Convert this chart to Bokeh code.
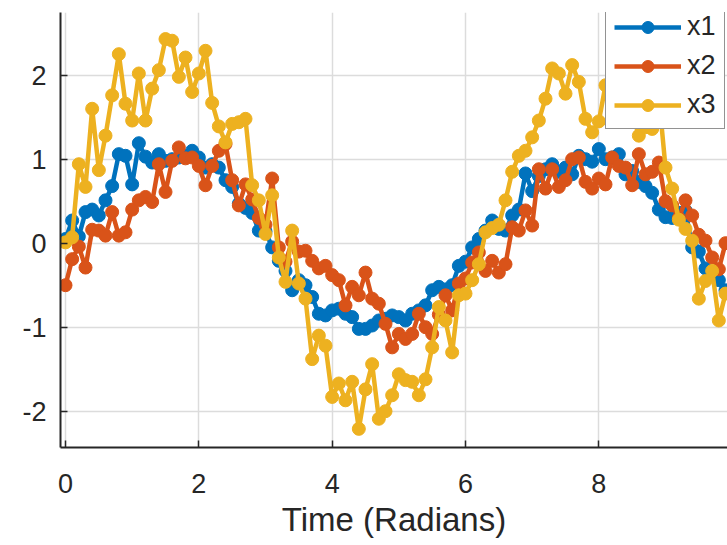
from bokeh.plotting import figure
from bokeh.models import FixedTicker, Range1d, Legend, LegendItem
from bokeh.embed import file_html
from bokeh.resources import INLINE

# Time (radians)
t = [round(0.1 * i, 1) for i in range(100)]

x1 = [0.05, 0.27, 0.08, 0.37, 0.40, 0.33, 0.51, 0.68, 1.06, 1.04,
      0.70, 1.19, 1.03, 0.96, 1.06, 0.98, 1.00, 1.02, 1.04, 1.10,
      1.02, 0.90, 0.94, 0.90, 0.75, 0.67, 0.47, 0.42, 0.36, 0.15,
      0.14, -0.05, -0.21, -0.33, -0.56, -0.44, -0.50, -0.64, -0.84, -0.86,
      -0.80, -0.78, -0.84, -0.88, -1.02, -1.02, -0.98, -0.92, -0.90, -0.86,
      -0.88, -0.92, -0.84, -0.80, -0.74, -0.56, -0.52, -0.55, -0.50, -0.27,
      -0.22, -0.05, 0.05, 0.15, 0.27, 0.17, 0.15, 0.33, 0.40, 0.83,
      0.62, 0.80, 0.88, 0.94, 0.85, 0.90, 0.82, 1.04, 1.00, 0.97,
      1.12, 1.00, 1.02, 1.06, 0.82, 0.86, 0.73, 0.68, 0.60, 0.40,
      0.31, 0.30, 0.36, 0.39, -0.05, -0.10, -0.30, -0.38, -0.44, -0.56]

x2 = [-0.50, -0.19, -0.04, -0.29, 0.16, 0.15, 0.09, 0.37, 0.09, 0.13,
      0.40, 0.51, 0.55, 0.49, 0.94, 0.61, 0.98, 1.14, 1.01, 1.02,
      0.92, 0.69, 0.92, 1.10, 1.18, 0.75, 0.45, 0.70, 0.52, 0.30,
      0.22, 0.77, -0.05, -0.22, 0.02, -0.10, -0.09, -0.21, -0.30, -0.27,
      -0.38, -0.44, -0.74, -0.52, -0.62, -0.35, -0.66, -0.72, -0.96, -1.24,
      -1.08, -1.14, -1.08, -0.84, -1.00, -1.08, -0.85, -0.62, -0.80, -0.48,
      -0.42, -0.23, -0.11, -0.33, -0.21, -0.35, -0.25, 0.19, 0.15, 0.39,
      0.21, 0.88, 0.65, 0.88, 0.67, 0.75, 1.00, 1.02, 0.73, 0.65,
      0.77, 0.70, 1.02, 0.92, 0.90, 0.69, 1.06, 0.82, 0.85, 0.96,
      0.50, 0.45, 0.30, 0.51, 0.33, 0.10, 0.03, -0.17, -0.31, 0.00]

x3 = [0.01, 0.07, 0.94, 0.67, 1.60, 0.87, 1.28, 1.76, 2.25, 1.66,
      1.46, 2.02, 1.46, 1.84, 2.06, 2.43, 2.41, 1.98, 2.21, 1.80,
      2.02, 2.29, 1.67, 1.39, 1.20, 1.42, 1.44, 1.48, 0.69, 0.51,
      0.11, 0.57, -0.17, -0.46, 0.15, -0.48, -0.66, -1.38, -1.10, -1.22,
      -1.83, -1.67, -1.87, -1.65, -2.21, -1.74, -1.44, -2.09, -2.00, -1.81,
      -1.56, -1.63, -1.65, -1.81, -1.62, -1.24, -0.76, -0.92, -1.30, -0.62,
      -0.60, -0.44, -0.25, 0.13, 0.18, 0.22, 0.51, 0.85, 1.04, 1.10,
      1.26, 1.46, 1.72, 2.08, 2.02, 1.78, 2.12, 1.92, 1.48, 1.32,
      1.45, 1.88, 2.00, 1.92, 1.75, 1.55, 1.28, 1.38, 1.36, 1.75,
      0.90, 0.65, 0.28, 0.17, 0.03, -0.66, -0.45, -0.33, -0.92, -0.60]

series_names = ["x1", "x2", "x3"]
series_colors = ["#0072BD", "#D95319", "#EDB120"]
x_ticks = [0, 2, 4, 6, 8]
y_ticks = [-2, -1, 0, 1, 2]
x_label = "Time (Radians)"

FONT = "Liberation Sans"
TXT = "#262626"

p = figure(width=727, height=545,
           x_range=Range1d(-0.075, 9.93), y_range=Range1d(-2.432, 2.746),
           min_border_left=60, min_border_right=0, min_border_top=12,
           min_border_bottom=98,
           output_backend="svg", toolbar_location=None)
p.outline_line_color = None
p.background_fill_color = "white"
p.border_fill_color = "white"

for ax, ticks in ((p.xaxis[0], x_ticks), (p.yaxis[0], y_ticks)):
    ax.ticker = FixedTicker(ticks=ticks)
    ax.major_label_overrides = {v: str(v) for v in ticks}
    ax.minor_tick_line_color = None
    ax.major_tick_in = 7
    ax.major_tick_out = 0
    ax.major_tick_line_color = TXT
    ax.major_tick_line_width = 1.5
    ax.axis_line_color = TXT
    ax.axis_line_width = 2
    ax.major_label_text_font = FONT
    ax.major_label_text_font_size = "27px"
    ax.major_label_text_color = TXT

p.xaxis.major_label_standoff = 26
p.yaxis.major_label_standoff = 14
p.xaxis.axis_label = x_label
p.xaxis.axis_label_text_font = FONT
p.xaxis.axis_label_text_font_size = "33px"
p.xaxis.axis_label_text_font_style = "normal"
p.xaxis.axis_label_text_color = TXT
p.xaxis.axis_label_standoff = 5

for g in (p.xgrid[0], p.ygrid[0]):
    g.grid_line_color = "#dcdcdc"
    g.grid_line_width = 1.5
p.xgrid.ticker = FixedTicker(ticks=x_ticks)
p.ygrid.ticker = FixedTicker(ticks=y_ticks)

items = []
for name, col, ys in zip(series_names, series_colors, (x1, x2, x3)):
    r1 = p.line(t, ys, line_color=col, line_width=4.5)
    r2 = p.scatter(t, ys, marker="circle", size=13, fill_color=col,
                   line_color=col)
    items.append(LegendItem(label=name, renderers=[r1, r2]))

legend = Legend(items=items, location=(545, 318))
legend.label_text_font = FONT
legend.label_text_font_size = "27px"
legend.label_text_color = TXT
legend.glyph_width = 67
legend.glyph_height = 30
legend.label_height = 30
legend.label_standoff = 6
legend.spacing = 8
legend.padding = 8
legend.margin = 0
legend.border_line_color = TXT
legend.border_line_width = 1.2
legend.background_fill_color = "white"
legend.background_fill_alpha = 1.0
p.add_layout(legend, "center")

open("out.html", "w").write(file_html(p, INLINE))
